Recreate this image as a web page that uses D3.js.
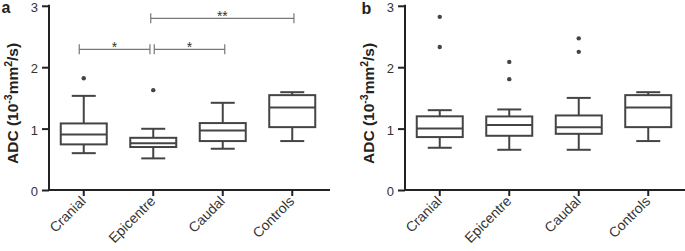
<!DOCTYPE html>
<html><head><meta charset="utf-8">
<script src="https://cdn.jsdelivr.net/npm/d3@7"></script>
<style>body{margin:0;background:#fff}svg{display:block}text{font-family:"Liberation Sans",Arial,sans-serif}</style>
</head><body>
<svg id="c" width="685" height="251"></svg>
<script>
const categories = ["Cranial","Epicentre","Caudal","Controls"];
const yTicks = [0,1,2,3];
// [min whisker, Q1, median, Q3, max whisker]
const panelA = [
  [0.60,0.743,0.905,1.084,1.533],
  [0.515,0.70,0.76,0.85,0.997],
  [0.672,0.797,0.97,1.09,1.42],
  [0.797,1.024,1.345,1.545,1.593]
];
const panelAOutliers = [[1.82],[1.626],[],[]];
const panelB = [
  [0.688,0.862,1.003,1.20,1.30],
  [0.655,0.883,1.057,1.198,1.312],
  [0.655,0.915,1.024,1.214,1.50],
  [0.797,1.024,1.345,1.545,1.593]
];
const panelBOutliers = [[2.82,2.33],[2.086,1.805],[2.47,2.25],[]];
// significance: [from index, to index, label, level]
const sigA = [[1,3,"**",0],[0,1,"*",1],[1,2,"*",1]];

const svg = d3.select("#c");
const col = "#444";

function panel(x0, x1, letter, lx, ly, boxes, outliers, sig){
  const y = d3.scaleLinear().domain([0,3]).range([190,5.8]);
  const x = d3.scaleBand().domain(categories).range([x0, x1]);
  const g = svg.append("g");
  // y axis
  const ya = g.append("g").attr("transform",`translate(${x0},0)`)
    .call(d3.axisLeft(y).tickValues(yTicks).tickSize(7).tickPadding(4).tickFormat(d3.format("d")));
  ya.select(".domain").attr("stroke","#222").attr("stroke-width",2).attr("d",`M0,${y(3)-1}V${y(0)}`);
  ya.selectAll(".tick line").attr("stroke","#222").attr("stroke-width",2);
  ya.selectAll(".tick text").attr("font-size",13).attr("fill","#333").attr("dy","0.44em");
  // x axis
  const xa = g.append("g").attr("transform",`translate(0,${y(0)})`)
    .call(d3.axisBottom(x).tickSize(6).tickSizeOuter(0));
  xa.select(".domain").attr("stroke","#222").attr("stroke-width",2).attr("d",`M${x0-1},0H${x1+3}`);
  xa.selectAll(".tick line").attr("stroke","#222").attr("stroke-width",2);
  xa.selectAll(".tick text").remove();
  xa.selectAll(".tick").append("text")
    .attr("font-size",14).attr("fill","#333")
    .attr("text-anchor","end")
    .attr("transform","translate(3,12) rotate(-45)")
    .text(d=>d);
  // y label
  const lab = g.append("text").attr("transform",`translate(${x0-31},${y(1.41)}) rotate(-90)`)
    .attr("text-anchor","middle").attr("font-size",15.5).attr("font-weight","bold").attr("fill","#222");
  lab.append("tspan").text("ADC (10");
  lab.append("tspan").attr("dy",-6).attr("font-size",10.5).text("-3");
  lab.append("tspan").attr("dy",6).text("mm");
  lab.append("tspan").attr("dy",-6).attr("font-size",10.5).text("2");
  lab.append("tspan").attr("dy",6).text("/s)");
  g.append("text").attr("x",lx).attr("y",ly).attr("font-size",16).attr("font-weight","bold").attr("fill","#222").text(letter);
  // boxes
  const bw = 46, cw = 24;
  boxes.forEach((b,i)=>{
    const cx = x(categories[i]) + x.bandwidth()/2;
    const s = g.append("g").attr("stroke",col).attr("stroke-width",2).attr("fill","none");
    s.append("line").attr("x1",cx).attr("x2",cx).attr("y1",y(b[0])).attr("y2",y(b[1]));
    s.append("line").attr("x1",cx).attr("x2",cx).attr("y1",y(b[3])).attr("y2",y(b[4]));
    s.append("line").attr("x1",cx-cw/2).attr("x2",cx+cw/2).attr("y1",y(b[0])).attr("y2",y(b[0]));
    s.append("line").attr("x1",cx-cw/2).attr("x2",cx+cw/2).attr("y1",y(b[4])).attr("y2",y(b[4]));
    s.append("rect").attr("x",cx-bw/2).attr("width",bw).attr("y",y(b[3])).attr("height",y(b[1])-y(b[3]));
    s.append("line").attr("x1",cx-bw/2).attr("x2",cx+bw/2).attr("y1",y(b[2])).attr("y2",y(b[2]));
    outliers[i].forEach(v=>{
      g.append("circle").attr("cx",cx).attr("cy",y(v)).attr("r",2.2).attr("fill",col);
    });
  });
  // significance
  const levels = [18.3, 49.3];
  sig.forEach(([a,b,t,l])=>{
    const yy = levels[l];
    let xa1 = x(categories[a]) + x.bandwidth()/2, xb1 = x(categories[b]) + x.bandwidth()/2;
    if (l===1 && a===0) { xa1 = xa1 - 4.5; xb1 = xb1 - 3.3; }
    if (l===1 && a===1) { xa1 = xa1 + 1; xb1 = xb1 + 2; }
    if (l===0) { xa1 = xa1 - 2.5; xb1 = xb1 + 1.7; }
    const s = g.append("g").attr("stroke","#777").attr("stroke-width",1.2);
    s.append("line").attr("x1",xa1).attr("x2",xb1).attr("y1",yy).attr("y2",yy);
    s.append("line").attr("x1",xa1).attr("x2",xa1).attr("y1",yy-5).attr("y2",yy+5);
    s.append("line").attr("x1",xb1).attr("x2",xb1).attr("y1",yy-5).attr("y2",yy+5);
    g.append("text").attr("x",(xa1+xb1)/2).attr("y",yy+3).attr("text-anchor","middle")
      .attr("font-size",14).attr("fill","#333").text(t);
  });
}
panel(49, 327, "a", 1.5, 12.8, panelA, panelAOutliers, sigA);
panel(405, 683, "b", 361.5, 14, panelB, panelBOutliers, []);
</script>
</body></html>
